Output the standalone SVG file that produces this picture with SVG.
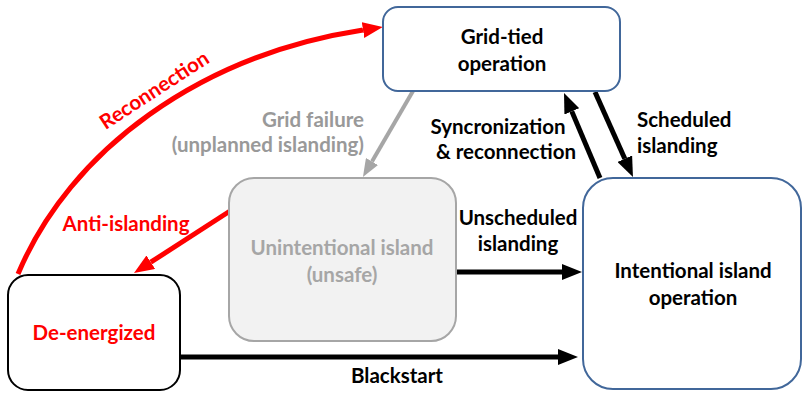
<svg xmlns="http://www.w3.org/2000/svg" width="803" height="393" viewBox="0 0 803 393">
<style>
text{font-family:Lato,"Open Sans","Liberation Sans",sans-serif;font-weight:bold;font-size:20.5px;}
.blk{fill:#000}
.red{fill:#ff0000}
.gry{fill:#a6a6a6}
.gry2{fill:#999999}
.mid{text-anchor:middle}
.end{text-anchor:end}
.bluebox{fill:#fff;stroke:#41679a;stroke-width:2}
</style>
<defs>
<marker id="ah" markerUnits="userSpaceOnUse" markerWidth="20" markerHeight="16" refX="0" refY="8" orient="auto">
<path d="M0,0 L20,8 L0,16 z" fill="#000"/>
</marker>
<marker id="ahr" markerUnits="userSpaceOnUse" markerWidth="20" markerHeight="16" refX="0" refY="8" orient="auto">
<path d="M0,0 L20,8 L0,16 z" fill="#ff0000"/>
</marker>
<marker id="ahg" markerUnits="userSpaceOnUse" markerWidth="18" markerHeight="14" refX="0" refY="7" orient="auto">
<path d="M0,0 L18,7 L0,14 z" fill="#a6a6a6"/>
</marker>
</defs>
<g id="connectors" fill="none">
<path d="M18,274 C70,150 200,55 363,30" stroke="#ff0000" stroke-width="5" marker-end="url(#ahr)"/>
<line x1="413" y1="91" x2="372" y2="161.5" stroke="#a6a6a6" stroke-width="4" marker-end="url(#ahg)"/>
<line x1="230" y1="211" x2="150.8" y2="262.2" stroke="#ff0000" stroke-width="5" marker-end="url(#ahr)"/>
<line x1="600" y1="178" x2="571.8" y2="111.4" stroke="#000" stroke-width="5" marker-end="url(#ah)"/>
<line x1="595" y1="92" x2="624.8" y2="158.7" stroke="#000" stroke-width="5" marker-end="url(#ah)"/>
<line x1="457" y1="272" x2="562" y2="272" stroke="#000" stroke-width="5" marker-end="url(#ah)"/>
<line x1="180" y1="357" x2="558" y2="357" stroke="#000" stroke-width="5" marker-end="url(#ah)"/>
</g>
<g id="labels">
<text class="red mid" transform="translate(158,96) rotate(-33)">Reconnection</text>
<text class="gry2 end" x="364" y="127">Grid failure</text>
<text class="gry2 end" x="364" y="152">(unplanned islanding)</text>
<text class="red mid" x="126" y="231">Anti-islanding</text>
<text class="blk mid" x="498" y="134">Syncronization</text>
<text class="blk mid" x="506" y="159">&amp; reconnection</text>
<text class="blk" x="637" y="127">Scheduled</text>
<text class="blk" x="637" y="153">islanding</text>
<text class="blk mid" x="518" y="225">Unscheduled</text>
<text class="blk mid" x="518" y="251">islanding</text>
<text class="blk mid" x="397" y="383">Blackstart</text>
</g>
<g id="grid-tied">
<rect class="bluebox" x="383" y="7" width="237" height="84" rx="15"/>
<text class="blk mid" x="502" y="44">Grid-tied</text>
<text class="blk mid" x="502" y="71">operation</text>
</g>
<g id="unintentional">
<rect x="229" y="178" width="227" height="163" rx="25" fill="#f2f2f2" stroke="#a6a6a6" stroke-width="2"/>
<text class="gry mid" x="342" y="255">Unintentional island</text>
<text class="gry mid" x="342" y="282">(unsafe)</text>
</g>
<g id="de-energized">
<rect x="8" y="275" width="172" height="115" rx="20" fill="#fff" stroke="#000" stroke-width="2"/>
<text class="red mid" x="94" y="340">De-energized</text>
</g>
<g id="intentional">
<rect class="bluebox" x="583" y="178" width="218" height="211" rx="30"/>
<text class="blk mid" x="693" y="278">Intentional island</text>
<text class="blk mid" x="693" y="305">operation</text>
</g>
</svg>
